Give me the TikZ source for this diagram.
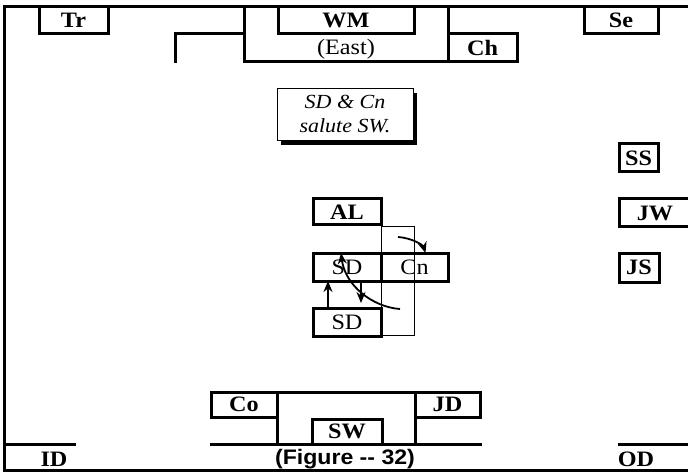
\documentclass[tikz,border=0pt]{standalone}
\usepackage{fontspec}
\setmainfont{Liberation Serif}[FakeStretch=1.1]
\newfontfamily\figfont{Liberation Sans}[FakeStretch=1.1]
\usetikzlibrary{arrows.meta, shadows}

\tikzset{
  wall/.style={line width=3pt, line cap=rect},
  post/.style={draw, line width=3pt, inner sep=0pt, outer sep=0pt, font=\fontsize{22}{24}\selectfont\bfseries},
  seat/.style={post, font=\fontsize{22}{24}\selectfont},
  move/.style={line width=1.8pt, -{Stealth[length=11pt, width=9pt]}},
}

\begin{document}
\begin{tikzpicture}[x=1pt, y=-1pt]
  \clip (0,0) rectangle (688,473);

  % Lodge room walls
  \draw[wall] (692,7) -- (4,7) -- (4,470) -- (692,470);
  \draw[wall] (175,62) -- (175,34) -- (244,34);
  \draw[wall] (244,7) rectangle (448,62);
  \node[font=\fontsize{22}{24}\selectfont] (east) at (346,49) {(East)};

  % East end
  \node[post, minimum width=69, minimum height=27] (tr) at (73.5,20.5) {Tr};
  \node[post, minimum width=136, minimum height=27] (wm) at (346,20.5) {WM};
  \node[post, minimum width=69, minimum height=28] (ch) at (482.5,48) {Ch};
  \node[post, minimum width=74, minimum height=27] (se) at (621,20.5) {Se};

  % Instruction
  \node[draw, line width=0.8pt, fill=white, minimum width=136, minimum height=52, align=center,
        drop shadow={shadow xshift=4pt, shadow yshift=-5pt, fill=black, opacity=1},
        font=\fontsize{20}{24}\selectfont\itshape] (note) at (345,114) {SD \& Cn\\salute SW.};

  % Altar and the deacons
  \draw[line width=0.8pt] (381,226) rectangle (414,335);
  \node[post, minimum width=68, minimum height=26] (al) at (347,212) {AL};
  \node[seat, minimum width=68, minimum height=28] (sd) at (347,267) {SD};
  \node[seat, minimum width=67, minimum height=28] (cn) at (414.5,267) {Cn};
  \node[seat, minimum width=68, minimum height=28] (sdb) at (347,322) {SD};

  % Moves
  \coordinate (down) at (361,303);
  \coordinate (cnfrom) at (398,237);
  \coordinate (sdfrom) at (400,309);
  \draw[move] ([xshift=-19pt]sdb.north) -- ([xshift=-19pt]sd.south);
  \draw[move] ([xshift=14pt]sd.south) -- (down);
  \draw[move] (cnfrom) .. controls (412,238) and (423,245) .. ([xshift=11pt]cn.north);
  \draw[move] (sdfrom) .. controls (372,307) and (345,285) .. ([xshift=-6pt]sd.north);

  % South side
  \node[post, minimum width=39, minimum height=28] (ss) at (638.5,158) {SS};
  \node[post, minimum width=72, minimum height=28] (jw) at (655,213) {JW};
  \node[post, minimum width=40, minimum height=29] (js) at (639,267.5) {JS};

  % West end
  \draw[wall] (277,392) rectangle (415,444);
  \draw[wall] (211,444) -- (480,444);
  \node[post, minimum width=66, minimum height=25] (co) at (244,404.5) {Co};
  \node[post, minimum width=65, minimum height=25] (jd) at (447.5,404.5) {JD};
  \node[post, minimum width=70, minimum height=25] (sw) at (347,431.5) {SW};

  % Doors
  \draw[wall] (4,444) -- (74,444);
  \draw[wall] (619,444) -- (692,444);
  \node[font=\fontsize{22}{24}\selectfont\bfseries] (id) at (54,459) {ID};
  \node[font=\fontsize{22}{24}\selectfont\bfseries] (od) at (636,459) {OD};
  \node[font=\fontsize{21}{24}\selectfont\figfont\bfseries] (fig) at (345,459) {(Figure {-}{-} 32)};
\end{tikzpicture}
\end{document}
